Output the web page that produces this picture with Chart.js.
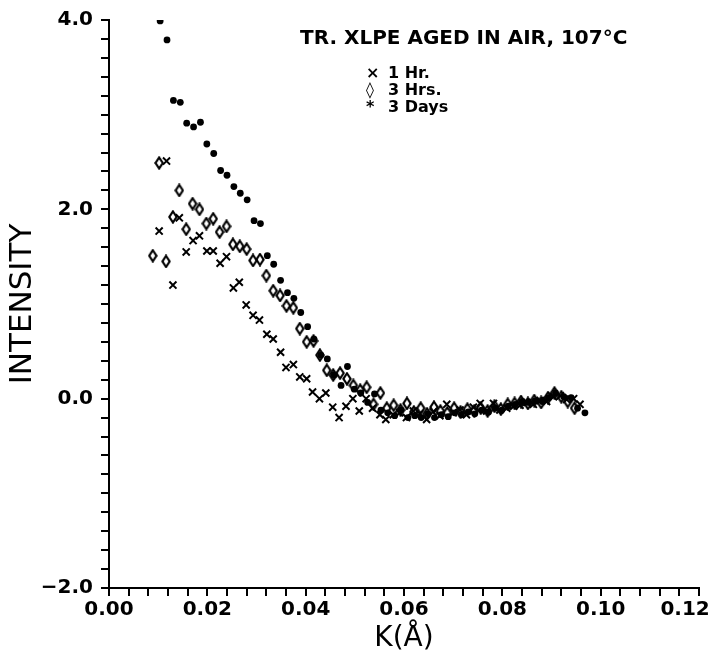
<!DOCTYPE html>
<html>
<head>
<meta charset="utf-8">
<script src="https://cdn.jsdelivr.net/npm/chart.js@4/dist/chart.umd.min.js"></script>
<style>
  html, body { margin: 0; padding: 0; background: #fff; }
  #wrap { width: 714px; height: 658px; }
</style>
</head>
<body>
<div id="wrap"><canvas id="saxsChart" width="714" height="658"></canvas></div>
<script>
// K (1/A) and intensity, one pair of arrays per ageing time
const k1Hr = [0.0102, 0.0117, 0.0130, 0.0143, 0.0157, 0.0171, 0.0184, 0.0199, 0.0212, 0.0226,
  0.0239, 0.0253, 0.0265, 0.0279, 0.0293, 0.0306, 0.0321, 0.0334, 0.0349, 0.0360,
  0.0375, 0.0388, 0.0402, 0.0414, 0.0428, 0.0441, 0.0455, 0.0468, 0.0482, 0.0496,
  0.0509, 0.0523, 0.0536, 0.0551, 0.0563, 0.0578, 0.0591, 0.0605, 0.0619, 0.0632,
  0.0646, 0.0659, 0.0673, 0.0687, 0.0700, 0.0714, 0.0727, 0.0741, 0.0755, 0.0768,
  0.0782, 0.0795, 0.0809, 0.0823, 0.0836, 0.0850, 0.0863, 0.0877, 0.0890, 0.0904,
  0.0918, 0.0931, 0.0945, 0.0958];
const int1Hr = [1.77, 2.51, 1.20, 1.91, 1.55, 1.67, 1.72, 1.56, 1.56, 1.43,
  1.50, 1.17, 1.23, 0.99, 0.88, 0.83, 0.68, 0.63, 0.49, 0.33,
  0.36, 0.23, 0.21, 0.07, 0.00, 0.06, -0.09, -0.20, -0.08, 0.00,
  -0.13, 0.00, -0.10, -0.17, -0.22, -0.17, -0.15, -0.20, -0.13, -0.16,
  -0.22, -0.14, -0.18, -0.06, -0.15, -0.12, -0.17, -0.09, -0.05, -0.13,
  -0.05, -0.12, -0.10, -0.08, -0.07, -0.04, -0.06, -0.02, -0.03, 0.02,
  0.03, -0.01, 0.00, -0.06];

const k3Hrs = [0.0089, 0.0102, 0.0116, 0.0130, 0.0143, 0.0157, 0.0170, 0.0184, 0.0198, 0.0212,
  0.0225, 0.0239, 0.0252, 0.0266, 0.0280, 0.0293, 0.0307, 0.0320, 0.0334, 0.0348,
  0.0361, 0.0375, 0.0388, 0.0402, 0.0416, 0.0429, 0.0443, 0.0456, 0.0470, 0.0484,
  0.0497, 0.0511, 0.0524, 0.0538, 0.0552, 0.0565, 0.0579, 0.0593, 0.0606, 0.0620,
  0.0634, 0.0647, 0.0661, 0.0674, 0.0688, 0.0702, 0.0715, 0.0729, 0.0743, 0.0756,
  0.0770, 0.0784, 0.0797, 0.0811, 0.0825, 0.0838, 0.0852, 0.0865, 0.0879, 0.0893,
  0.0906, 0.0920, 0.0933, 0.0947];
const int3Hrs = [1.51, 2.49, 1.45, 1.92, 2.20, 1.79, 2.06, 2.00, 1.85, 1.90,
  1.76, 1.82, 1.63, 1.61, 1.58, 1.46, 1.47, 1.30, 1.14, 1.09,
  0.98, 0.96, 0.74, 0.60, 0.61, 0.46, 0.30, 0.25, 0.27, 0.21,
  0.14, 0.09, 0.12, -0.06, 0.06, -0.10, -0.07, -0.12, -0.05, -0.14,
  -0.10, -0.16, -0.09, -0.13, -0.15, -0.10, -0.14, -0.11, -0.13, -0.10,
  -0.13, -0.08, -0.11, -0.06, -0.05, -0.03, -0.05, -0.02, -0.04, 0.01,
  0.06, 0.02, -0.03, -0.10];

const k3Days = [0.0104, 0.0118, 0.0131, 0.0145, 0.0158, 0.0172, 0.0186, 0.0199, 0.0213, 0.0227,
  0.0240, 0.0254, 0.0267, 0.0281, 0.0295, 0.0308, 0.0322, 0.0335, 0.0349, 0.0363,
  0.0376, 0.0390, 0.0404, 0.0417, 0.0431, 0.0444, 0.0458, 0.0472, 0.0485, 0.0499,
  0.0512, 0.0526, 0.0540, 0.0553, 0.0567, 0.0581, 0.0594, 0.0608, 0.0622, 0.0635,
  0.0649, 0.0662, 0.0676, 0.0690, 0.0703, 0.0717, 0.0731, 0.0744, 0.0758, 0.0772,
  0.0785, 0.0799, 0.0812, 0.0826, 0.0840, 0.0853, 0.0867, 0.0881, 0.0894, 0.0908,
  0.0925, 0.0940, 0.0953, 0.0968];
const int3Days = [3.99, 3.79, 3.15, 3.13, 2.91, 2.87, 2.92, 2.69, 2.59, 2.41,
  2.36, 2.24, 2.17, 2.10, 1.88, 1.85, 1.51, 1.42, 1.25, 1.12,
  1.06, 0.91, 0.76, 0.63, 0.46, 0.42, 0.25, 0.14, 0.34, 0.10,
  0.06, -0.04, 0.05, -0.12, -0.15, -0.18, -0.12, -0.20, -0.18, -0.20,
  -0.16, -0.20, -0.17, -0.19, -0.15, -0.17, -0.14, -0.16, -0.12, -0.14,
  -0.10, -0.12, -0.08, -0.06, -0.03, -0.04, -0.02, -0.03, 0.01, 0.06,
  0.02, 0.01, -0.10, -0.15];

const seriesNames = ['1 Hr.', '3 Hrs.', '3 Days'];
const legendSymbols = ['\u00d7', '\u25ca', '*'];
const chartTitle = 'TR. XLPE AGED IN AIR, 107\u00b0C';

function toPoints(ks, vals) {
  return ks.map((k, i) => ({ x: k, y: vals[i] }));
}

// tall hollow diamond marker like the plotter symbol
function diamondMarker() {
  const c = document.createElement('canvas');
  c.width = 10; c.height = 14;
  const g = c.getContext('2d');
  g.strokeStyle = '#000';
  g.lineWidth = 2.2;
  g.beginPath();
  g.moveTo(5, 1.5);
  g.lineTo(8.6, 7);
  g.lineTo(5, 12.5);
  g.lineTo(1.4, 7);
  g.closePath();
  g.stroke();
  return c;
}

// title and legend are written inside the plot area
const annotations = {
  id: 'annotations',
  afterDraw(chart) {
    const ctx = chart.ctx;
    ctx.save();
    ctx.fillStyle = '#000';
    ctx.textBaseline = 'alphabetic';
    ctx.textAlign = 'left';
    ctx.font = 'bold 20px "DejaVu Sans"';
    ctx.fillText(chartTitle, 300, 44);
    ctx.font = 'bold 16px "DejaVu Sans"';
    const rows = [78, 95, 112];
    seriesNames.forEach((name, i) => {
      ctx.fillText(legendSymbols[i], 366, rows[i]);
      ctx.fillText(name, 388, rows[i]);
    });
    ctx.restore();
  }
};

Chart.defaults.font.family = '"DejaVu Sans", sans-serif';
Chart.defaults.color = '#000';

const ctx = document.getElementById('saxsChart');
new Chart(ctx, {
  type: 'scatter',
  data: {
    datasets: [
      {
        label: seriesNames[0],
        data: toPoints(k1Hr, int1Hr),
        pointStyle: 'crossRot',
        pointRadius: 5,
        borderColor: '#000',
        borderWidth: 2
      },
      {
        label: seriesNames[1],
        data: toPoints(k3Hrs, int3Hrs),
        pointStyle: diamondMarker(),
        pointRadius: 5
      },
      {
        label: seriesNames[2],
        data: toPoints(k3Days, int3Days),
        pointStyle: 'circle',
        pointRadius: 3.4,
        backgroundColor: '#000',
        borderColor: '#000',
        borderWidth: 0
      }
    ]
  },
  options: {
    responsive: false,
    animation: false,
    devicePixelRatio: 1,
    layout: { padding: { top: 15, right: 15, bottom: 0, left: 0 } },
    plugins: {
      legend: { display: false },
      tooltip: { enabled: false }
    },
    scales: {
      x: {
        type: 'linear',
        min: 0,
        max: 0.12,
        border: { display: true, color: '#000', width: 2 },
        grid: { drawOnChartArea: false, drawTicks: true, tickLength: 8, color: '#000', lineWidth: 2 },
        ticks: {
          stepSize: 0.004,
          autoSkip: false,
          maxRotation: 0,
          padding: 2,
          font: { size: 20, weight: 'bold' },
          callback: v => {
            const m = Math.round(v * 1000);
            if (m % 20 !== 0) return '';
            // last label sits left of its tick, as in the original plot
            return m === 120 ? v.toFixed(2) + '\u2007\u2007' : v.toFixed(2);
          }
        },
        title: {
          display: true,
          text: 'K(\u00c5)',
          font: { size: 28 },
          padding: { top: 0, bottom: 2 }
        },
        afterFit: s => { s.height = 70; s.paddingRight = 0; }
      },
      y: {
        type: 'linear',
        min: -2,
        max: 4,
        border: { display: true, color: '#000', width: 2 },
        grid: { drawOnChartArea: false, drawTicks: true, tickLength: 8, color: '#000', lineWidth: 2 },
        ticks: {
          stepSize: 0.2,
          autoSkip: false,
          padding: 8,
          font: { size: 20, weight: 'bold' },
          callback: v => {
            const r = Math.round(v * 10);
            if (r % 20 !== 0) return '';
            return r < 0 ? '\u2212' + Math.abs(v).toFixed(1) : v.toFixed(1);
          }
        },
        title: {
          display: true,
          text: 'INTENSITY',
          font: { size: 31 },
          padding: { top: 4, bottom: 0 }
        },
        afterFit: s => { s.width = 109; }
      }
    }
  },
  plugins: [annotations]
});
</script>
</body>
</html>
